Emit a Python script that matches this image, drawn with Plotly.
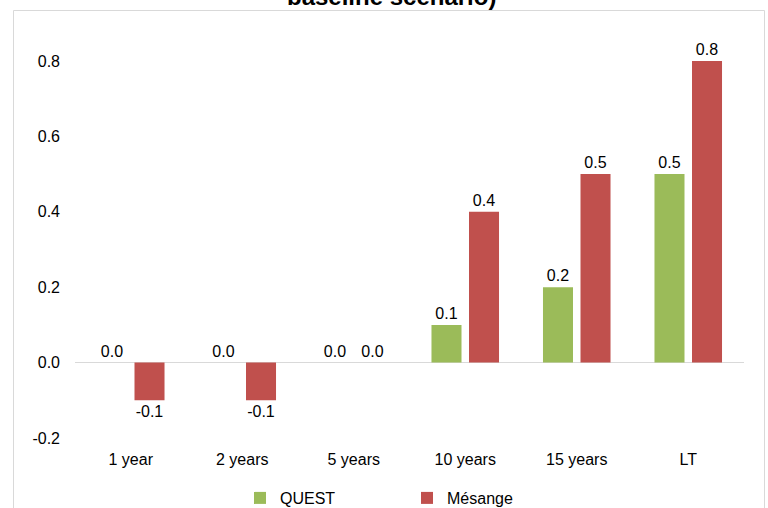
import plotly.graph_objects as go

categories = ["1 year", "2 years", "5 years", "10 years", "15 years", "LT"]
quest = [0.0, 0.0, 0.0, 0.1, 0.2, 0.5]
mesange = [-0.1, -0.1, 0.0, 0.4, 0.5, 0.8]
y_ticks = [-0.2, 0.0, 0.2, 0.4, 0.6, 0.8]
title_text = "baseline scenario)"

FONT = "Liberation Sans, Arial, sans-serif"
GREEN = "#9BBB59"
RED = "#C0504D"

fig = go.Figure()
for name, vals, col in [("QUEST", quest, GREEN), ("Mésange", mesange, RED)]:
    fig.add_trace(go.Bar(
        x=categories, y=vals, name=name,
        marker=dict(color=col, line=dict(width=0)),
        text=[f"{v:.1f}" for v in vals],
        textposition="outside", cliponaxis=False, constraintext="none",
        textfont=dict(family=FONT, size=16, color="#000000"),
    ))

W, H = 768, 508
L, R, T, B = 75, 24, 61, 70
pw, ph = W - L - R, H - T - B

def px(x):
    return (x - L) / pw

def py(y):
    return (H - B - y) / ph

fig.update_layout(
    width=W, height=H,
    margin=dict(l=L, r=R, t=T, b=B, autoexpand=False),
    paper_bgcolor="white", plot_bgcolor="white",
    font=dict(family=FONT, size=16, color="#000000"),
    barmode="group", bargap=0.327, bargroupgap=0.2,
    showlegend=True,
    legend=dict(orientation="h", x=px(240), xanchor="left",
                y=py(498), yanchor="middle",
                entrywidth=122, font=dict(size=16, family=FONT), itemwidth=30,
                bgcolor="rgba(0,0,0,0)"),
    xaxis=dict(showgrid=False, showline=False, ticks="", ticklabelstandoff=10,
               tickfont=dict(size=16, family=FONT), automargin=False),
    yaxis=dict(range=[-0.2, 0.8], tickvals=y_ticks, ticktext=[f"{v:.1f}" for v in y_ticks],
               showgrid=False, showline=False, ticks="", ticklabelstandoff=14,
               zeroline=True, zerolinecolor="#D9D9D9", zerolinewidth=1,
               tickfont=dict(size=16, family=FONT), automargin=False),
    shapes=[dict(type="rect", xref="paper", yref="paper",
                 x0=px(13.5), x1=px(764.5), y0=py(520), y1=py(10.5),
                 line=dict(color="#D9D9D9", width=1), fillcolor="rgba(0,0,0,0)", layer="below")],
    annotations=[dict(text="<b>" + title_text + "</b>", xref="paper", yref="paper",
                      x=px(391), y=py(12), xanchor="center", yanchor="bottom",
                      showarrow=False, font=dict(size=24, family=FONT, color="#000000"))],
)

fig.write_html("out.html")
